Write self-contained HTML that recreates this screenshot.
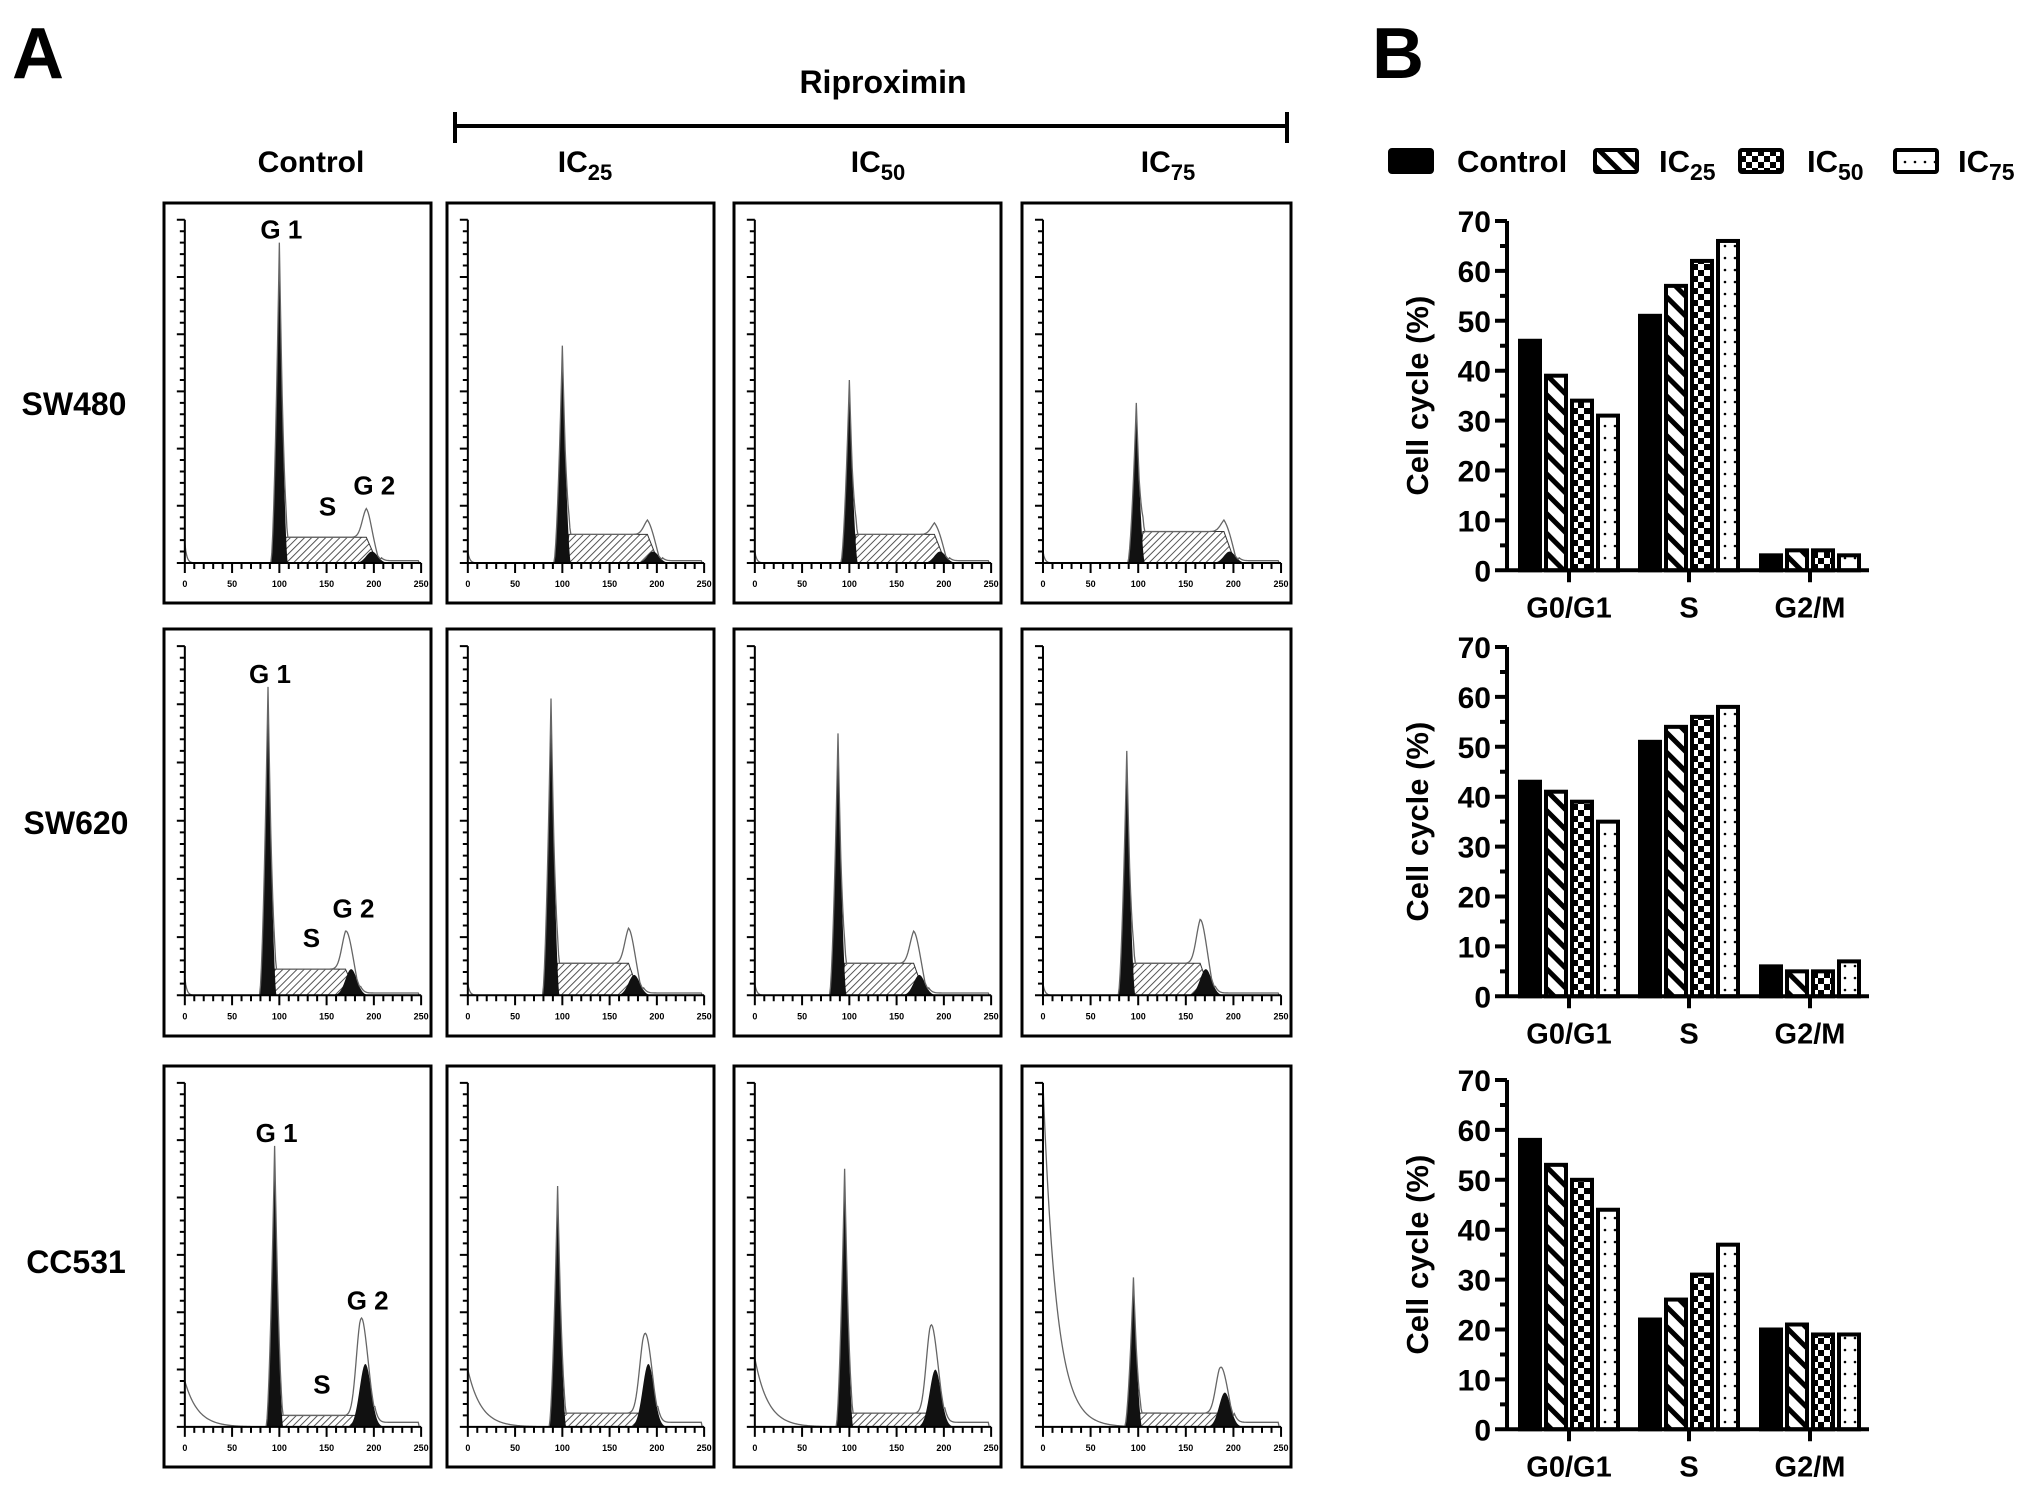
<!DOCTYPE html>
<html><head><meta charset="utf-8"><style>
html,body{margin:0;padding:0;background:#fff}
svg{display:block}
text{font-family:"Liberation Sans",sans-serif;font-weight:bold;fill:#000}
</style></head><body>
<svg id="fig" width="2031" height="1486" viewBox="0 0 2031 1486" xmlns="http://www.w3.org/2000/svg">
<defs>
<pattern id="hatch" patternUnits="userSpaceOnUse" width="14" height="14" patternTransform="rotate(-45)">
<rect width="14" height="14" fill="#fff"/><rect x="0" y="0" width="5" height="14" fill="#000"/></pattern>
<pattern id="check" patternUnits="userSpaceOnUse" width="12" height="12">
<rect width="12" height="12" fill="#fff"/><rect width="6" height="6" fill="#000"/><rect x="6" y="6" width="6" height="6" fill="#000"/></pattern>
<pattern id="dots" patternUnits="userSpaceOnUse" width="10" height="12">
<rect width="10" height="12" fill="#fff"/><circle cx="5" cy="6" r="1.3" fill="#000"/></pattern>
<pattern id="shatch" patternUnits="userSpaceOnUse" width="5" height="5" patternTransform="rotate(45)">
<rect width="5" height="5" fill="#fff"/><rect width="1" height="5" fill="#555"/></pattern>
</defs>
<g><text x="12" y="78" font-size="72">A</text></g>
<g><text x="1372" y="78" font-size="72">B</text></g>
<text x="883" y="93" font-size="32" text-anchor="middle">Riproximin</text>
<g stroke="#000" stroke-width="4">
<line x1="455" y1="126" x2="1287" y2="126"/><line x1="455" y1="112" x2="455" y2="143"/><line x1="1287" y1="112" x2="1287" y2="143"/></g>
<text x="311" y="172" font-size="30" text-anchor="middle">Control</text>
<text x="585" y="172" font-size="30" text-anchor="middle">IC<tspan font-size="22" dy="8">25</tspan></text>
<text x="878" y="172" font-size="30" text-anchor="middle">IC<tspan font-size="22" dy="8">50</tspan></text>
<text x="1168" y="172" font-size="30" text-anchor="middle">IC<tspan font-size="22" dy="8">75</tspan></text>
<text x="74" y="415" font-size="32" text-anchor="middle">SW480</text>
<text x="76" y="834" font-size="32" text-anchor="middle">SW620</text>
<text x="76" y="1273" font-size="32" text-anchor="middle">CC531</text>
<g id="hists"></g>
<g id="bars"></g>
</svg>
<script>
// ---- Flow histogram data: [G1 channel, G1 height, S level, G2 channel, G2 envelope height, G2 fill height, debris level]
const histRow1 = [[100,560,45,192,95,20,35],[100,380,50,190,75,20,20],[100,320,50,190,70,20,20],[98,280,55,190,75,20,20]];
const histRow2 = [[88,530,45,170,110,45,30],[88,510,55,170,115,35,20],[88,450,55,168,110,35,20],[88,420,55,165,130,45,20]];
const histRow3 = [[95,245,10,185,90,55,40],[95,210,12,185,75,55,50],[95,225,12,185,85,50,60],[95,130,12,185,50,30,300]];
const histYMax = [600,600,300];
const histXTicks = [0,50,100,150,200,250];
const histLabels = [["G 1","S","G 2"],["G 1","S","G 2"],["G 1","S","G 2"]];
// ---- Bar chart data
const phases = ["G0/G1","S","G2/M"];
const seriesNames = ["Control","IC25","IC50","IC75"];
const cellLines = ["SW480","SW620","CC531"];
const sw480Vals = [[46,39,34,31],[51,57,62,66],[3,4,4,3]];
const sw620Vals = [[43,41,39,35],[51,54,56,58],[6,5,5,7]];
const cc531Vals = [[58,53,50,44],[22,26,31,37],[20,21,19,19]];
const yTicks = [0,10,20,30,40,50,60,70];

const NS="http://www.w3.org/2000/svg";
function mk(tag,attrs,parent){const e=document.createElementNS(NS,tag);for(const k in attrs)e.setAttribute(k,attrs[k]);parent.appendChild(e);return e;}

const colX=[[164,431],[447,714],[734,1001],[1022,1291]];
const rowY=[[203,603],[629,1036],[1066,1467]];
const hists=document.getElementById('hists');
const rows=[histRow1,histRow2,histRow3];
const colNames=["control","ic25","ic50","ic75"];
rows.forEach((row,ri)=>{
  row.forEach((p,ci)=>{
    const [bx0,bx1]=colX[ci],[by0,by1]=rowY[ri];const w=bx1-bx0,h=by1-by0;
    const g=mk('g',{},hists);
    
    
    const box=mk('rect',{x:bx0,y:by0,width:w,height:h,fill:'#fff',stroke:'#000','stroke-width':3},g);
    
    const ox=bx0+0.078*w, x250=bx0+0.963*w, base=by0+0.9*h, top=by0+0.042*h;
    const ymax=histYMax[ri];
    const X=c=>ox+(c/250)*(x250-ox), Y=v=>base-(Math.min(v,ymax)/ymax)*(base-top);
    const [g1,g1h,s,g2,g2h,g2f,deb]=p;
    const G1=c=>{const d=Math.abs(c-g1);return d<9?g1h*Math.pow(1-d/9,1.6):0;};
    const G2=c=>g2f*Math.exp(-((c-g2-6)**2)/(2*6*6));
    const Sf=c=>{if(c<g1+3)return 0; if(c<g1+7)return s*(c-g1-3)/4; if(c<g2)return s; if(c<g2+12)return s*(1-(c-g2)/12); return 0;};
    const env=c=>G1(c)+Sf(c)+G2(c)+(g2h-s-g2f*0.6)*Math.exp(-((c-g2)**2)/(2*4.5*4.5))*(c>g2-15?1:0)+deb*Math.exp(-c/(ri==2?14:2))+ (c>g2+15&&c<248?4:0);
    let d='M'+X(g1+3)+','+base;for(let c=g1+3;c<=g2+12;c+=1)d+=' L'+X(c)+','+Y(Sf(c));d+=' L'+X(g2+12)+','+base+'Z';
    const sh=mk('path',{d:d,fill:'url(#shatch)',stroke:'#333','stroke-width':1},g);
    
    d='M'+X(g1-10)+','+base;for(let c=g1-10;c<=g1+10;c+=0.5)d+=' L'+X(c)+','+Y(G1(c));d+=' L'+X(g1+10)+','+base+'Z';
    const g1p=mk('path',{d:d,fill:'#111'},g);
    
    d='M'+X(g2-10)+','+base;for(let c=g2-10;c<=g2+24;c+=1)d+=' L'+X(c)+','+Y(G2(c));d+=' Z';
    const g2p=mk('path',{d:d,fill:'#111'},g);
    
    d='';for(let c=0;c<=248;c+=1)d+=(c?' L':'M')+X(c)+','+Y(env(c));
    const en=mk('path',{d:d,fill:'none',stroke:'#666','stroke-width':1.3},g);
    
    const ax=mk('path',{d:`M${ox},${top} L${ox},${base} L${x250},${base}`,fill:'none',stroke:'#000','stroke-width':2},g);
    
    let tk='';for(let c=0;c<=250;c+=10)tk+=`M${X(c)},${base} L${X(c)},${base+(c%50?6:10)} `;
    for(let v=0;v<=ymax;v+=ymax/30)tk+=`M${ox},${Y(v)} L${ox-((Math.round(v/(ymax/30))%5)?5:8)},${Y(v)} `;
    mk('path',{d:tk,stroke:'#000','stroke-width':2},g);
    histXTicks.forEach(t=>{const tx=mk('text',{x:X(t),y:base+24,'font-size':9,'text-anchor':'middle','font-weight':'normal',fill:'#444'},g);tx.textContent=t;
      });
    if(ci===0){
      const L=histLabels[ri];
      const l1=mk('text',{x:X(g1)+2,y:Y(g1h)-4,'font-size':26,'text-anchor':'middle'},g);l1.textContent=L[0];
      
      const l2=mk('text',{x:X((g1+g2)/2+5),y:Y(s)-22,'font-size':26,'text-anchor':'middle'},g);l2.textContent=L[1];
      
      const l3=mk('text',{x:X(g2)+8,y:Y(g2h)-14,'font-size':26,'text-anchor':'middle'},g);l3.textContent=L[2];
      
    }
  });
});

const bars=document.getElementById('bars');
const fills=['#000','url(#hatch)','url(#check)','url(#dots)'];
const axX=1507, axEnd=1869, catX=[1569,1689,1810], offs=[-39,-13,13,39], bw=20;
const panelTop=[221,647,1080], unit=4.99;
const leg=mk('g',{},bars);
const legBox=[1388,1593,1738,1893], legTx=[1457,1659,1807,1958];
seriesNames.forEach((n,i)=>{
  const e=mk('g',{},leg);
  mk('rect',{x:legBox[i]+2,y:150,width:42,height:22,fill:fills[i],stroke:'#000','stroke-width':4,rx:2},e);
  const t=mk('text',{x:legTx[i],y:172,'font-size':31},e);
  if(i===0)t.textContent=n;else{t.textContent='IC';const ts=mk('tspan',{'font-size':23,dy:8},t);ts.textContent=n.slice(2);}
});
[sw480Vals,sw620Vals,cc531Vals].forEach((vals,pi)=>{
  const t0=panelTop[pi], base=t0+70*unit, Y=v=>base-v*unit;
  const g=mk('g',{},bars);
  
  
  vals.forEach((grp,ci)=>grp.forEach((v,si)=>{
    const r=mk('rect',{x:catX[ci]+offs[si]-bw/2,y:Y(v),width:bw,height:v*unit,fill:fills[si],stroke:'#000','stroke-width':4},g);
    
    
  }));
  let d=`M${axX},${Y(70)} L${axX},${base} M${axX-12},${base} L${axEnd},${base}`;
  for(let v=0;v<=70;v+=5)d+=` M${axX-(v%10?7:12)},${Y(v)} L${axX},${Y(v)}`;
  catX.forEach(x=>d+=` M${x},${base} L${x},${base+12}`);
  const a=mk('path',{d:d,stroke:'#000','stroke-width':4,fill:'none'},g);
  
  yTicks.forEach(v=>{const t=mk('text',{x:axX-16,y:Y(v)+11,'font-size':30,'text-anchor':'end'},g);t.textContent=v;
    });
  phases.forEach((p,ci)=>{const t=mk('text',{x:catX[ci],y:base+47,'font-size':29,'text-anchor':'middle'},g);t.textContent=p;
    });
  const yt=mk('text',{x:0,y:0,'font-size':31,'text-anchor':'middle',transform:`translate(1428,${(Y(70)+base)/2}) rotate(-90)`},g);
  yt.textContent='Cell cycle (%)';
  
});
</script>
</body></html>
